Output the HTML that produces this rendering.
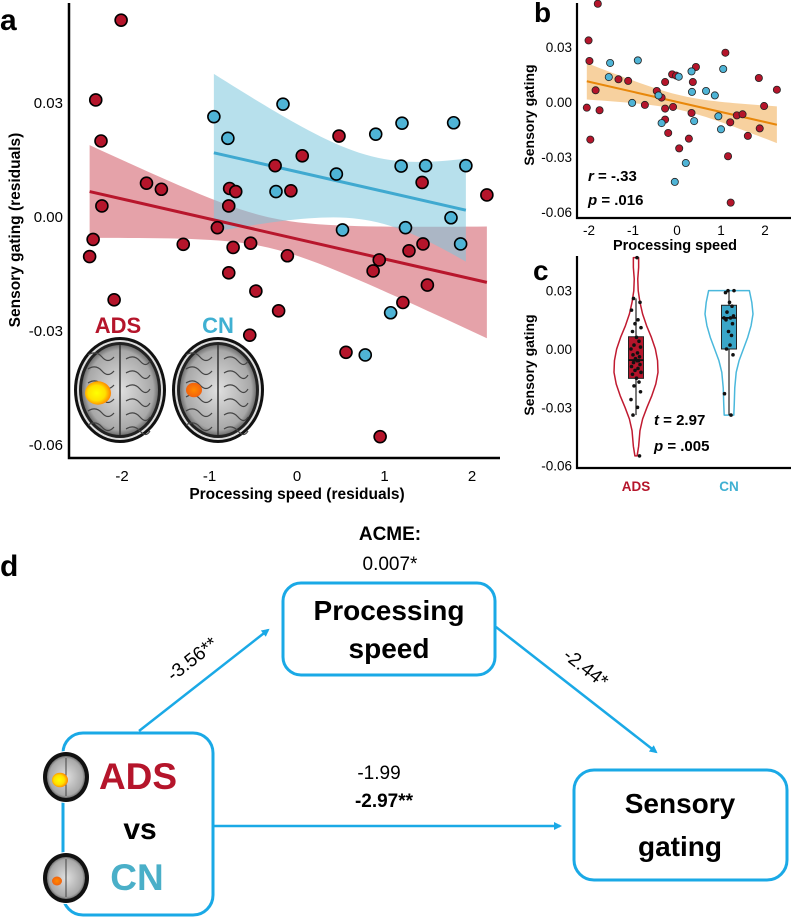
<!DOCTYPE html>
<html><head><meta charset="utf-8">
<style>
html,body{margin:0;padding:0;background:#fff;}
svg{display:block;font-family:"Liberation Sans",sans-serif;}
</style></head>
<body>
<svg id="fig" width="791" height="920" viewBox="0 0 791 920" xmlns="http://www.w3.org/2000/svg">
<defs>
<radialGradient id="blobA" cx="0.45" cy="0.5" r="0.6"><stop offset="0" stop-color="#ffff00"/><stop offset="0.55" stop-color="#ffe000"/><stop offset="1" stop-color="#ff6a00"/></radialGradient>
<radialGradient id="blobC" cx="0.5" cy="0.5" r="0.6"><stop offset="0" stop-color="#ff8a00"/><stop offset="1" stop-color="#f05a10"/></radialGradient>
<radialGradient id="brainG" cx="0.5" cy="0.5" r="0.55"><stop offset="0" stop-color="#e0e0e0"/><stop offset="0.8" stop-color="#a8a8a8"/><stop offset="1" stop-color="#444"/></radialGradient>
<marker id="arr" markerWidth="8" markerHeight="8" refX="6" refY="4" orient="auto" markerUnits="userSpaceOnUse"><path d="M0,0 L8,4 L0,8 Z" fill="#1aa9e6"/></marker>
</defs>
<g id="gA"></g><g id="gB"></g><g id="gC"></g><g id="gD"></g>
</svg>
<script>
// ---------- Panel a data ----------
const adsX=[-2.01,-2.30,-2.24,-2.37,-2.33,-2.23,-1.72,-1.55,-2.09,-1.30,-0.77,-0.70,-0.78,-0.91,-0.73,-0.53,-0.78,-0.47,-0.54,-0.21,-0.11,-0.25,-0.07,0.06,0.48,0.56,0.94,0.87,0.95,1.21,1.28,1.44,1.43,1.49,2.17];
const adsY=[0.0518,0.0308,0.020,-0.0104,-0.0059,0.0029,0.0089,0.0073,-0.0218,-0.0072,0.0075,0.0067,0.0029,-0.0028,-0.0080,-0.0069,-0.0147,-0.0195,-0.0311,-0.0247,-0.0102,0.0135,0.0069,0.0161,0.0213,-0.0356,-0.0113,-0.0142,-0.0578,-0.0225,-0.0089,-0.0071,0.0091,-0.0179,0.0058];
const cnX=[-0.95,-0.79,-0.16,-0.24,0.45,0.52,0.90,1.20,1.19,1.47,1.93,1.79,1.76,1.24,1.87,1.07,0.78];
const cnY=[0.0264,0.0207,0.0297,0.0067,0.0113,-0.0034,0.0218,0.0247,0.0134,0.0135,0.0135,0.0248,-0.0002,-0.0028,-0.0071,-0.0252,-0.0363];
const aXTicks=[-2,-1,0,1,2];
const aYTicks=[0.03,0.00,-0.03,-0.06];
const aYTickLabels=["0.03","0.00","-0.03","-0.06"];
const adsFit=[-2.37,0.0067,2.17,-0.0172];
const cnFit=[-0.95,0.0169,1.93,0.0018];
// ---------- Panel b data ----------
const bRedX=[-1.80,-2.01,-1.99,-1.85,-2.05,-1.97,-1.76,-1.33,-1.11,-0.73,-0.46,-0.35,-0.27,-0.27,-0.27,-0.20,-0.09,-0.11,-0.02,0.05,0.27,0.33,0.36,0.43,1.10,1.16,1.21,1.22,1.36,1.49,1.61,1.88,1.86,1.98,2.27];
const bRedY=[0.0536,0.0336,0.0224,0.0064,-0.0031,-0.0205,-0.0045,0.0124,0.0115,-0.0016,0.0060,0.0024,0.0109,-0.0036,-0.0096,-0.0169,-0.0027,0.0151,0.0144,-0.0253,-0.0200,-0.0060,0.0109,0.0191,0.0269,-0.0296,-0.0111,-0.0549,-0.0073,-0.0067,-0.0185,-0.0144,0.0131,-0.0022,0.0067];
const bBlueX=[-1.52,-1.55,-0.89,-1.02,-0.42,-0.35,0.04,-0.05,0.20,0.33,0.34,0.39,0.66,0.86,0.94,1.00,1.05];
const bBlueY=[0.0213,0.0136,0.0227,-0.0005,0.0036,-0.0115,0.0138,-0.0436,-0.0333,0.0167,0.0055,-0.0104,0.0060,0.0036,-0.0078,-0.0149,0.0180];
const bFit=[-2.05,0.0113,2.27,-0.0124];
const bXTicks=[-2,-1,0,1,2];
const bYTicks=[0.03,0.00,-0.03,-0.06];
// ---------- Panel c data ----------
const cGroups=["ADS","CN"];
const cAdsVals=[0.047,0.026,0.024,0.020,0.015,0.013,0.011,0.009,0.006,0.004,0.002,0.001,0.000,-0.002,-0.003,-0.004,-0.005,-0.006,-0.006,-0.007,-0.008,-0.009,-0.010,-0.011,-0.012,-0.013,-0.015,-0.017,-0.019,-0.022,-0.026,-0.030,-0.034,-0.055];
const cCnVals=[0.030,0.030,0.029,0.024,0.022,0.019,0.017,0.016,0.016,0.015,0.013,0.009,0.007,0.002,0.000,-0.003,-0.023,-0.034];
const cAdsBox=[-0.034,-0.0151,-0.0057,0.0063,0.026];
const cCnBox=[-0.034,0.000,0.016,0.0225,0.030];
const vAdsV=[-0.055,-0.050,-0.042,-0.036,-0.030,-0.024,-0.018,-0.012,-0.006,0.000,0.006,0.012,0.018,0.024,0.030,0.036,0.042,0.047];
const vAdsD=[0.05,0.12,0.18,0.30,0.50,0.72,0.90,1.00,0.98,0.88,0.70,0.48,0.30,0.18,0.10,0.08,0.12,0.12];
const vCnV=[-0.034,-0.028,-0.020,-0.012,-0.006,0.000,0.006,0.012,0.018,0.024,0.030];
const vCnD=[0.20,0.22,0.24,0.30,0.42,0.60,0.78,0.92,1.00,0.95,0.85];

const NS="http://www.w3.org/2000/svg";
function el(tag,attrs,parent,text){const e=document.createElementNS(NS,tag);for(const k in attrs)e.setAttribute(k,attrs[k]);if(text!==undefined)e.textContent=text;parent.appendChild(e);return e;}
const RED="#b5152b",BLUE="#4fb4d6";

// ================= Panel A =================
(function(){
const g=document.getElementById('gA');
const xs=v=>297+v*87.5, ys=v=>217-v*3800;
let t=el('text',{x:0,y:30,'font-size':30,'font-weight':'bold'},g,'a');

function band(fit,xm,hw0,k,color,op,name){
  const m=(fit[3]-fit[1])/(fit[2]-fit[0]);const f=x=>fit[1]+m*(x-fit[0]);
  const h=x=>Math.sqrt(hw0*hw0+k*(x-xm)*(x-xm));
  let up=[],lo=[];const N=40;
  for(let i=0;i<=N;i++){const x=fit[0]+(fit[2]-fit[0])*i/N;up.push(xs(x)+','+ys(f(x)+h(x)));lo.unshift(xs(x)+','+ys(f(x)-h(x)));}
  const p=el('polygon',{points:up.concat(lo).join(' '),fill:color,'fill-opacity':op},g);
  
}
band(adsFit,-0.33,0.004,3.2e-5,'#cf5562',0.55,'ads-confidence-band');
band(cnFit,0.9,0.0085,1.05e-4,'#7cc6dc',0.55,'cn-confidence-band');
let l=el('line',{x1:xs(adsFit[0]),y1:ys(adsFit[1]),x2:xs(adsFit[2]),y2:ys(adsFit[3]),stroke:'#b8162c','stroke-width':3},g);

l=el('line',{x1:xs(cnFit[0]),y1:ys(cnFit[1]),x2:xs(cnFit[2]),y2:ys(cnFit[3]),stroke:'#3fa9d0','stroke-width':3},g);

adsX.forEach((x,i)=>{const c=el('circle',{cx:xs(x),cy:ys(adsY[i]),r:6,fill:RED,stroke:'#000','stroke-width':1.6},g);
});
cnX.forEach((x,i)=>{const c=el('circle',{cx:xs(x),cy:ys(cnY[i]),r:6,fill:BLUE,stroke:'#000','stroke-width':1.6},g);
});
function brain(cx,cy,rx,ry,blob,bx,by,br,name){
  const bg=el('g',{},g);
  el('ellipse',{cx:cx,cy:cy,rx:rx,ry:ry,fill:'#111'},bg);
  el('ellipse',{cx:cx,cy:cy,rx:rx-3,ry:ry-3,fill:'#ddd'},bg);
  el('ellipse',{cx:cx,cy:cy,rx:rx-5,ry:ry-5,fill:'#222'},bg);
  el('ellipse',{cx:cx,cy:cy,rx:rx-8,ry:ry-8,fill:'url(#brainG)'},bg);
  el('line',{x1:cx,y1:cy-ry+8,x2:cx,y2:cy+ry-8,stroke:'#333','stroke-width':1.5},bg);
  for(let i=0;i<6;i++){el('path',{d:`M${cx-rx+14},${cy-ry+18+i*14} q8,-5 14,2 t12,0`,stroke:'#444',fill:'none','stroke-width':1.2},bg);
  el('path',{d:`M${cx+6},${cy-ry+22+i*14} q8,-5 14,2 t10,0`,stroke:'#444',fill:'none','stroke-width':1.2},bg);}
  el('ellipse',{cx:bx,cy:by,rx:br,ry:br*0.9,fill:blob},bg);
}
brain(120,390,46,53,'url(#blobA)',98,393,13,'ads-brain-image');
brain(218,390,46,53,'url(#blobC)',194,390,8,'cn-brain-image');
t=el('text',{x:118,y:333,'font-size':22,'font-weight':'bold',fill:RED,'text-anchor':'middle'},g,'ADS');

t=el('text',{x:218,y:333,'font-size':22,'font-weight':'bold',fill:'#3fb0d2','text-anchor':'middle'},g,'CN');

l=el('path',{d:'M69,3 L69,458 L500,458',stroke:'#000','stroke-width':2.5,fill:'none'},g);

aXTicks.forEach(v=>{const tt=el('text',{x:xs(v),y:481,'font-size':15,'text-anchor':'middle'},g,String(v));
});
aYTicks.forEach((v,i)=>{const tt=el('text',{x:63,y:ys(v)+5,'font-size':15,'text-anchor':'end'},g,aYTickLabels[i]);
});
t=el('text',{x:297,y:499,'font-size':15.5,'font-weight':'bold','text-anchor':'middle'},g,'Processing speed (residuals)');

t=el('text',{x:0,y:0,'font-size':15.5,'font-weight':'bold','text-anchor':'middle',transform:'translate(20,230) rotate(-90)'},g,'Sensory gating (residuals)');

})();

// ================= Panel B =================
(function(){
const g=document.getElementById('gB');
const xs=v=>677+v*44, ys=v=>102-v*1833;
let t=el('text',{x:534,y:22,'font-size':28,'font-weight':'bold'},g,'b');

const m=(bFit[3]-bFit[1])/(bFit[2]-bFit[0]);const f=x=>bFit[1]+m*(x-bFit[0]);
const h=x=>Math.sqrt(0.004*0.004+1.8e-5*(x-0.1)*(x-0.1));
let up=[],lo=[];for(let i=0;i<=40;i++){const x=bFit[0]+(bFit[2]-bFit[0])*i/40;up.push(xs(x)+','+ys(f(x)+h(x)));lo.unshift(xs(x)+','+ys(f(x)-h(x)));}
let p=el('polygon',{points:up.concat(lo).join(' '),fill:'#f4c27f','fill-opacity':0.75},g);

let l=el('line',{x1:xs(bFit[0]),y1:ys(bFit[1]),x2:xs(bFit[2]),y2:ys(bFit[3]),stroke:'#e8870a','stroke-width':2},g);

bRedX.forEach((x,i)=>{const c=el('circle',{cx:xs(x),cy:ys(bRedY[i]),r:3.6,fill:RED,stroke:'#222','stroke-width':0.8},g);
});
bBlueX.forEach((x,i)=>{const c=el('circle',{cx:xs(x),cy:ys(bBlueY[i]),r:3.6,fill:BLUE,stroke:'#222','stroke-width':0.8},g);
});
l=el('path',{d:'M577,3 L577,218 L791,218',stroke:'#000','stroke-width':2.2,fill:'none'},g);

bXTicks.forEach(v=>{const tt=el('text',{x:xs(v),y:235,'font-size':13.5,'text-anchor':'middle'},g,String(v));
});
bYTicks.forEach((v,i)=>{const tt=el('text',{x:572,y:ys(v)+5,'font-size':13.5,'text-anchor':'end'},g,aYTickLabels[i]);
});
t=el('text',{x:675,y:250,'font-size':14.5,'font-weight':'bold','text-anchor':'middle'},g,'Processing speed');

t=el('text',{x:0,y:0,'font-size':14,'font-weight':'bold','text-anchor':'middle',transform:'translate(534,115) rotate(-90)'},g,'Sensory gating');

t=el('text',{x:588,y:181,'font-size':15,'font-weight':'bold'},g);
t.innerHTML='<tspan font-style="italic">r</tspan> = -.33';

t=el('text',{x:588,y:205,'font-size':15,'font-weight':'bold'},g);
t.innerHTML='<tspan font-style="italic">p</tspan> = .016';

})();

// ================= Panel C =================
(function(){
const g=document.getElementById('gC');
const ys=v=>349-v*1944;
const gx=[636,729];
let t=el('text',{x:533,y:280,'font-size':28,'font-weight':'bold'},g,'c');

function violin(cx,vals,dens,maxw,color,name){
  let r=[],lft=[];vals.forEach((v,i)=>{r.push((cx+dens[i]*maxw)+','+ys(v));lft.unshift((cx-dens[i]*maxw)+','+ys(v));});
  const p=el('polygon',{points:r.concat(lft).join(' '),fill:'none',stroke:color,'stroke-width':1.5,'stroke-linejoin':'round'},g);
  
}
violin(gx[0],vAdsV,vAdsD,22,'#c01a30','ads-violin');
violin(gx[1],vCnV,vCnD,24,'#4ab8dc','cn-violin');
function box(cx,b,fill,name){
  const bg=el('g',{},g);
  el('line',{x1:cx,y1:ys(b[0]),x2:cx,y2:ys(b[4]),stroke:'#222','stroke-width':1.2},bg);
  el('rect',{x:cx-7.5,y:ys(b[3]),width:15,height:ys(b[1])-ys(b[3]),fill:fill,stroke:'#222','stroke-width':1},bg);
  el('line',{x1:cx-7.5,y1:ys(b[2]),x2:cx+7.5,y2:ys(b[2]),stroke:'#111','stroke-width':1.8},bg);
}
box(gx[0],cAdsBox,'#b5152b','ads-boxplot');
box(gx[1],cCnBox,'#3aa6c8','cn-boxplot');
const jit=[0.2,-0.5,0.8,-0.9,0.4,-0.2,1.0,-0.7,0.1,0.6,-0.4,0.9,-1.0,0.3,-0.6,0.7,-0.1,0.5];
cAdsVals.forEach((v,i)=>{const c=el('circle',{cx:gx[0]+jit[i%18]*5,cy:ys(v),r:1.8,fill:'#111'},g);
});
cCnVals.forEach((v,i)=>{const c=el('circle',{cx:gx[1]+jit[(i+5)%18]*5,cy:ys(v),r:1.8,fill:'#111'},g);
});
let l=el('path',{d:'M577,256 L577,468 L791,468',stroke:'#000','stroke-width':2.2,fill:'none'},g);

bYTicks.forEach((v,i)=>{const tt=el('text',{x:572,y:ys(v)+5,'font-size':13.5,'text-anchor':'end'},g,aYTickLabels[i]);
});
t=el('text',{x:gx[0],y:491,'font-size':13.5,'font-weight':'bold','text-anchor':'middle',fill:RED},g,cGroups[0]);

t=el('text',{x:gx[1],y:491,'font-size':13.5,'font-weight':'bold','text-anchor':'middle',fill:'#3fb0d2'},g,cGroups[1]);

t=el('text',{x:0,y:0,'font-size':14,'font-weight':'bold','text-anchor':'middle',transform:'translate(534,365) rotate(-90)'},g,'Sensory gating');

t=el('text',{x:654,y:425,'font-size':15,'font-weight':'bold'},g);t.innerHTML='<tspan font-style="italic">t</tspan> = 2.97';

t=el('text',{x:654,y:451,'font-size':15,'font-weight':'bold'},g);t.innerHTML='<tspan font-style="italic">p</tspan> = .005';

})();

// ================= Panel D =================
(function(){
const g=document.getElementById('gD');
const B="#1aa9e6";
let t=el('text',{x:0,y:576,'font-size':30,'font-weight':'bold'},g,'d');

let r=el('rect',{x:63,y:733,width:150,height:182,rx:20,fill:'none',stroke:B,'stroke-width':3},g);

r=el('rect',{x:283,y:583,width:212,height:92,rx:18,fill:'none',stroke:B,'stroke-width':3},g);

r=el('rect',{x:574,y:770,width:213,height:110,rx:20,fill:'none',stroke:B,'stroke-width':3},g);

function sb(cx,cy,blob,br,name){const bg=el('g',{},g);
el('ellipse',{cx:cx,cy:cy,rx:24,ry:26,fill:'#fff'},bg);
el('ellipse',{cx:cx,cy:cy,rx:23,ry:25,fill:'#111'},bg);
el('ellipse',{cx:cx,cy:cy,rx:19,ry:21,fill:'url(#brainG)'},bg);
el('line',{x1:cx,y1:cy-19,x2:cx,y2:cy+19,stroke:'#444','stroke-width':1},bg);
el('ellipse',{cx:cx-14+br,cy:cy+3,rx:br,ry:br*0.9,fill:blob},bg);}
sb(66,777,'url(#blobA)',8,'ads-small-brain');
sb(66,878,'url(#blobC)',5,'cn-small-brain');
t=el('text',{x:138,y:789,'font-size':37,'font-weight':'bold',fill:RED,'text-anchor':'middle'},g,'ADS');

t=el('text',{x:140,y:839,'font-size':30,'font-weight':'bold','text-anchor':'middle'},g,'vs');

t=el('text',{x:137,y:890,'font-size':37,'font-weight':'bold',fill:'#4aafc8','text-anchor':'middle'},g,'CN');

t=el('text',{x:389,y:620,'font-size':28,'font-weight':'bold','text-anchor':'middle'},g,'Processing');

t=el('text',{x:389,y:658,'font-size':28,'font-weight':'bold','text-anchor':'middle'},g,'speed');

t=el('text',{x:680,y:813,'font-size':28,'font-weight':'bold','text-anchor':'middle'},g,'Sensory');

t=el('text',{x:680,y:856,'font-size':28,'font-weight':'bold','text-anchor':'middle'},g,'gating');

let a=el('line',{x1:139,y1:731,x2:268,y2:630,stroke:B,'stroke-width':2.5,'marker-end':'url(#arr)'},g);

a=el('line',{x1:496,y1:627,x2:656,y2:752,stroke:B,'stroke-width':2.5,'marker-end':'url(#arr)'},g);

a=el('line',{x1:214,y1:826,x2:560,y2:826,stroke:B,'stroke-width':2.5,'marker-end':'url(#arr)'},g);

t=el('text',{x:0,y:0,'font-size':19,'text-anchor':'middle',transform:'translate(196,664) rotate(-38)'},g,'-3.56**');

t=el('text',{x:0,y:0,'font-size':19,'text-anchor':'middle',transform:'translate(582,673) rotate(38)'},g,'-2.44*');

t=el('text',{x:379,y:779,'font-size':19,'text-anchor':'middle'},g,'-1.99');

t=el('text',{x:384,y:807,'font-size':19,'font-weight':'bold','text-anchor':'middle'},g,'-2.97**');

t=el('text',{x:390,y:540,'font-size':19,'font-weight':'bold','text-anchor':'middle'},g,'ACME:');

t=el('text',{x:390,y:570,'font-size':19,'text-anchor':'middle'},g,'0.007*');

})();
</script>
</body></html>
